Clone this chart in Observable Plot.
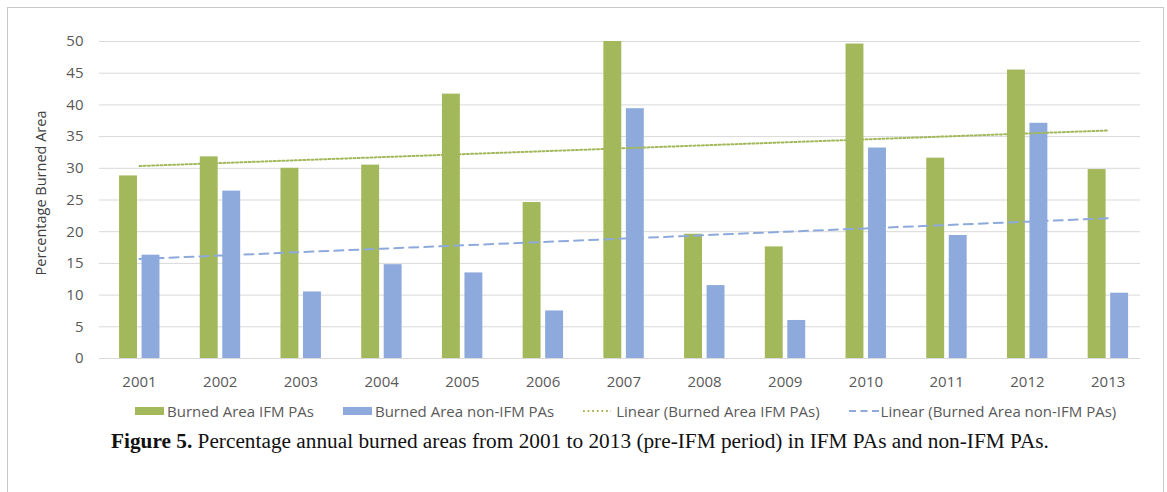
<!DOCTYPE html>
<html>
<head>
<meta charset="utf-8">
<script src="https://cdn.jsdelivr.net/npm/d3@7"></script>
<script src="https://cdn.jsdelivr.net/npm/@observablehq/plot@0.6"></script>
<style>
  html, body { margin: 0; padding: 0; background: #fff; }
  body { width: 1167px; height: 492px; position: relative; overflow: hidden; font-family: "Open Sans", sans-serif; }
  #frame { position: absolute; left: 7px; top: 7px; width: 1157px; height: 520px; border: 1.5px solid #c8c8c8; border-bottom: none; box-sizing: border-box; }
  #chart { position: absolute; left: 0; top: 0; }
  #legend { position: absolute; left: 135px; top: 401px; display: flex; gap: 29px; font-size: 15px; color: #595959; line-height: 20px; white-space: nowrap; }
  #legend .item { display: flex; align-items: center; }
  #legend .sw { display: inline-block; width: 29px; height: 8px; margin-right: 3px; }
  #caption { position: absolute; left: 111px; top: 430.5px; font-family: "Liberation Serif", "Times New Roman", serif; font-size: 21.3px; line-height: 20px; color: #111; white-space: nowrap; }
</style>
</head>
<body>
<div id="frame"></div>
<div id="chart"></div>
<div id="legend"></div>
<div id="caption"></div>
<script>
// ---- data ----
const years = ["2001","2002","2003","2004","2005","2006","2007","2008","2009","2010","2011","2012","2013"];
const burnedIFM = [28.8, 31.8, 30.0, 30.5, 41.7, 24.6, 50.0, 19.6, 17.6, 49.6, 31.6, 45.5, 29.8];
const burnedNonIFM = [16.3, 26.4, 10.5, 14.8, 13.5, 7.5, 39.4, 11.5, 6.0, 33.2, 19.4, 37.1, 10.3];
const yTicks = [0, 5, 10, 15, 20, 25, 30, 35, 40, 45, 50];
const seriesNames = ["Burned Area IFM PAs", "Burned Area non-IFM PAs", "Linear (Burned Area IFM PAs)", "Linear (Burned Area non-IFM PAs)"];
const yLabel = "Percentage Burned Area";
const captionBold = "Figure 5.";
const captionText = " Percentage annual burned areas from 2001 to 2013 (pre-IFM period) in IFM PAs and non-IFM PAs.";

const GREEN = "#a2b85b";
const BLUE = "#8eaadc";

// ---- derived ----
const rows = years.map((year, i) => ({year, ifm: burnedIFM[i], non: burnedNonIFM[i]}));

// least-squares linear trend (as Excel "Linear" trendline)
function linearTrend(vals) {
  const xs = d3.range(vals.length);
  const mx = d3.mean(xs), my = d3.mean(vals);
  const b = d3.sum(xs, (x, i) => (x - mx) * (vals[i] - my)) / d3.sum(xs, x => (x - mx) ** 2);
  const a = my - b * mx;
  return xs.map(x => ({year: years[x], value: a + b * x}));
}
const trendIFM = linearTrend(burnedIFM);
const trendNon = linearTrend(burnedNonIFM);

const chart = Plot.plot({
  width: 1167,
  height: 395,
  marginLeft: 99,
  marginRight: 27,
  marginTop: 41,
  marginBottom: 37,
  style: {fontFamily: "'Open Sans', sans-serif", fontSize: "15px", color: "#595959", background: "transparent"},
  x: {type: "band", domain: years, range: [98.65, 1148], padding: 0, round: false},
  y: {domain: [0, 50], nice: false},
  marks: [
    Plot.gridY(yTicks, {stroke: "#d9d9d9", strokeOpacity: 1, strokeWidth: 1}),
    Plot.barY(rows, {x: "year", y: "ifm", fill: GREEN, insetLeft: 20.4, insetRight: 42.4}),
    Plot.barY(rows, {x: "year", y: "non", fill: BLUE, insetLeft: 42.9, insetRight: 19.9}),
    Plot.line(trendIFM, {x: "year", y: "value", stroke: GREEN, strokeWidth: 2, strokeDasharray: "2,2.2"}),
    Plot.line(trendNon, {x: "year", y: "value", stroke: BLUE, strokeWidth: 2, strokeDasharray: "9,6"}),
    Plot.axisY(yTicks, {tickSize: 0, tickPadding: 16, label: null}),
    Plot.axisX({tickSize: 0, tickPadding: 18, label: null}),
    Plot.text([yLabel], {frameAnchor: "left", textAnchor: "middle", dx: -58, dy: -7, rotate: -90, fontSize: 14.5, fill: "#404040"})
  ]
});
document.getElementById("chart").appendChild(chart);

// ---- legend ----
const legend = d3.select("#legend");
const items = [
  {name: seriesNames[0], kind: "swatch", color: GREEN},
  {name: seriesNames[1], kind: "swatch", color: BLUE},
  {name: seriesNames[2], kind: "dot", color: GREEN},
  {name: seriesNames[3], kind: "dash", color: BLUE}
];
for (const it of items) {
  const el = legend.append("div").attr("class", "item");
  if (it.kind === "swatch") {
    el.append("span").attr("class", "sw").style("background", it.color);
  } else {
    const w = it.kind === "dot" ? 28 : 31;
    const s = el.append("svg").attr("width", w).attr("height", 8)
      .style("margin-right", it.kind === "dot" ? "5px" : "1px");
    s.append("line").attr("x1", 0).attr("x2", w).attr("y1", 4).attr("y2", 4)
      .attr("stroke", it.color).attr("stroke-width", 1.8)
      .attr("stroke-dasharray", it.kind === "dot" ? "1.8,2.8" : "7,4.5");
  }
  el.append("span").text(it.name);
}

// ---- caption ----
const cap = d3.select("#caption");
cap.append("b").text(captionBold);
cap.append("span").text(captionText);
</script>
</body>
</html>
